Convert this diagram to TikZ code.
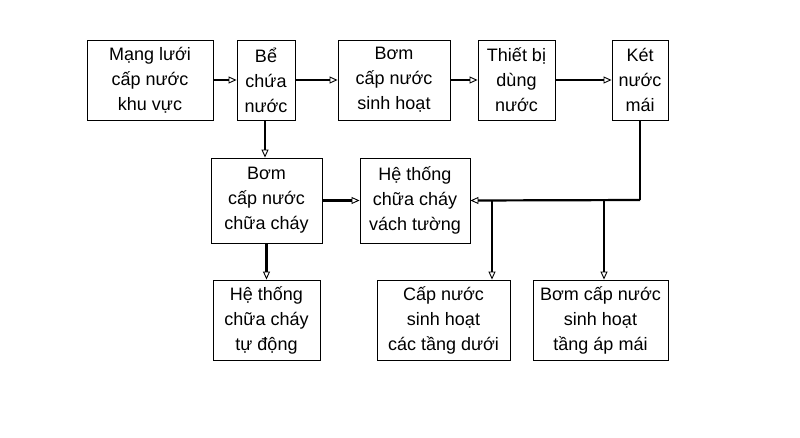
\documentclass[tikz,border=0pt]{standalone}
\usepackage{fontspec}
\setmainfont{Liberation Sans}
\usetikzlibrary{arrows.meta}
\begin{document}
\begin{tikzpicture}[x=1pt,y=-1pt,
 box/.style={draw,line width=0.9pt,align=center,font=\fontsize{18}{25}\selectfont,inner sep=0pt},
 conn/.style={line width=2.2pt,-{Triangle[open,length=8pt,width=7pt,line width=0.9pt]}},
 plain/.style={line width=2.2pt}]
\useasboundingbox (0,0) rectangle (800,437);
\fill[white] (0,0) rectangle (800,437);
\newcommand{\bx}[6]{\node[box,minimum width=#4-#2,minimum height=#5-#3] (#1) at ({(#2+#4)/2},{(#3+#5)/2}) {#6};}
\bx{a}{87}{40}{213}{120}{Mạng lưới\\cấp nước\\khu vực}
\bx{b}{237}{40}{295}{120}{Bể\\chứa\\nước}
\bx{c}{338}{40}{450}{120}{Bơm\\cấp nước\\sinh hoạt}
\bx{d}{478}{40}{555}{120}{Thiết bị\\dùng\\nước}
\bx{e}{612}{40}{668}{120}{Két\\nước\\mái}
\bx{f}{211}{158}{322}{243}{Bơm\\cấp nước\\chữa cháy}
\bx{g}{360}{158}{470}{243}{Hệ thống\\chữa cháy\\vách tường}
\bx{h}{213}{280}{320}{360}{Hệ thống\\chữa cháy\\tự động}
\bx{i}{377}{280}{510}{360}{Cấp nước\\sinh hoạt\\các tầng dưới}
\bx{j}{533}{280}{668}{360}{Bơm cấp nước\\sinh hoạt\\tầng áp mái}
\draw[conn] (a) -- (b);
\draw[conn] (b) -- (c);
\draw[conn] (c) -- (d);
\draw[conn] (d) -- (e);
\draw[conn] (b.south -| 265,0) -- (f.north -| 265,0);
\draw[conn] (f) -- (g);
\draw[conn] (f) -- (h.north -| f);
\coordinate (k) at (640,200);
\coordinate (m1) at (492,200);
\coordinate (m2) at (604,200);
\draw[plain] (e.south -| k) -- (k);
\draw[conn] (k) -- (g.east);
\draw[conn] (m1) -- (i.north -| m1);
\draw[conn] (m2) -- (j.north -| m2);
\end{tikzpicture}
\end{document}
